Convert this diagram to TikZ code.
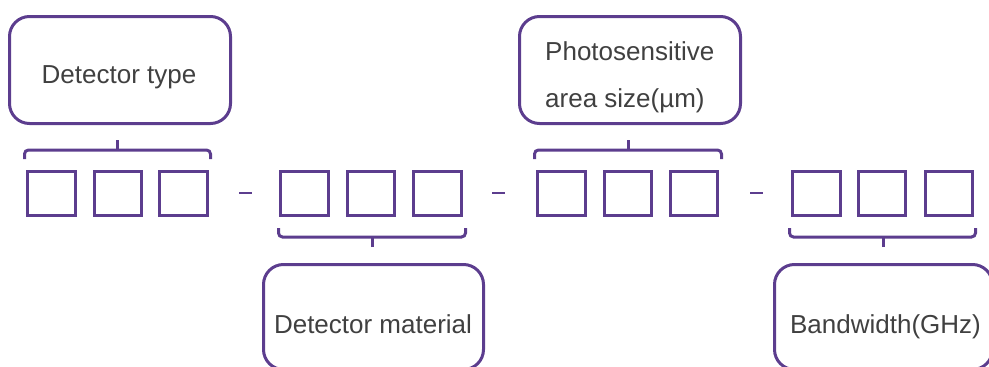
\documentclass[tikz,border=0pt]{standalone}
\usepackage{fontspec}
\setmainfont{Liberation Sans}
\definecolor{pp}{RGB}{92,61,142}
\definecolor{tx}{RGB}{64,64,64}
\begin{document}
\begin{tikzpicture}[x=1pt,y=-1pt,
  cell/.style={draw=pp,line width=3.2pt,minimum width=47.5pt,minimum height=44pt,inner sep=0pt},
  infobox/.style={draw=pp,line width=3pt,rounded corners=20pt,inner sep=0pt},
  lbl/.style={text=tx,font=\fontsize{26}{30}\selectfont,inner sep=0pt,anchor=base},
  brace/.style={draw=pp,line width=3pt,rounded corners=4pt},
  sep/.style={draw=pp,line width=2.6pt}]
\useasboundingbox (0,0) rectangle (989,367);
% cells
\foreach \g/\a/\b/\c in {1/51.5/118/183.5,2/304.5/371/437.5,3/561.5/628/694,4/816.5/882/949}{
  \node[cell] (c\g a) at (\a,193.5) {};
  \node[cell] (c\g b) at (\b,193.5) {};
  \node[cell] (c\g c) at (\c,193.5) {};
}
% boxes
\node[infobox,minimum width=221pt,minimum height=107pt] (t1) at (120,70) {};
\node[infobox,minimum width=221pt,minimum height=107pt] (t3) at (630,70) {};
\node[infobox,minimum width=220pt,minimum height=105pt] (t2) at (373.5,317) {};
\node[infobox,minimum width=218pt,minimum height=105pt] (t4) at (883.5,317) {};
% labels
\node[lbl] (l1) at (119,83) {Detector type};
\node[lbl,anchor=base west] (l3a) at (545,60) {Photosensitive};
\node[lbl,anchor=base west] (l3b) at (545,107) {area size(\textmu m)};
\node[lbl] (l2) at (373,333) {Detector material};
\node[lbl] (l4) at (885.5,333) {Bandwidth(GHz)};
% braces
\coordinate (s1) at (117,140);
\coordinate (s3) at (628,140);
\coordinate (s2) at (372,247);
\coordinate (s4) at (883,247);
\draw[brace] (24.5,159) -- (24.5,150) -- (210.5,150) -- (210.5,159);
\draw[brace] (s1) -- (117,150.5);
\draw[brace] (534.5,159) -- (534.5,150) -- (721.5,150) -- (721.5,159);
\draw[brace] (s3) -- (628,150.5);
\draw[brace] (278.5,228) -- (278.5,237) -- (465.5,237) -- (465.5,228);
\draw[brace] (s2) -- (372,236.5);
\draw[brace] (789.5,228) -- (789.5,237) -- (975.5,237) -- (975.5,228);
\draw[brace] (s4) -- (883,236.5);
% separators
\coordinate (d1a) at (239,193); \coordinate (d1b) at (252,193);
\coordinate (d2a) at (492,193); \coordinate (d2b) at (505,193);
\coordinate (d3a) at (750,193); \coordinate (d3b) at (763,193);
\draw[sep] (d1a) -- (d1b);
\draw[sep] (d2a) -- (d2b);
\draw[sep] (d3a) -- (d3b);
\end{tikzpicture}
\end{document}
